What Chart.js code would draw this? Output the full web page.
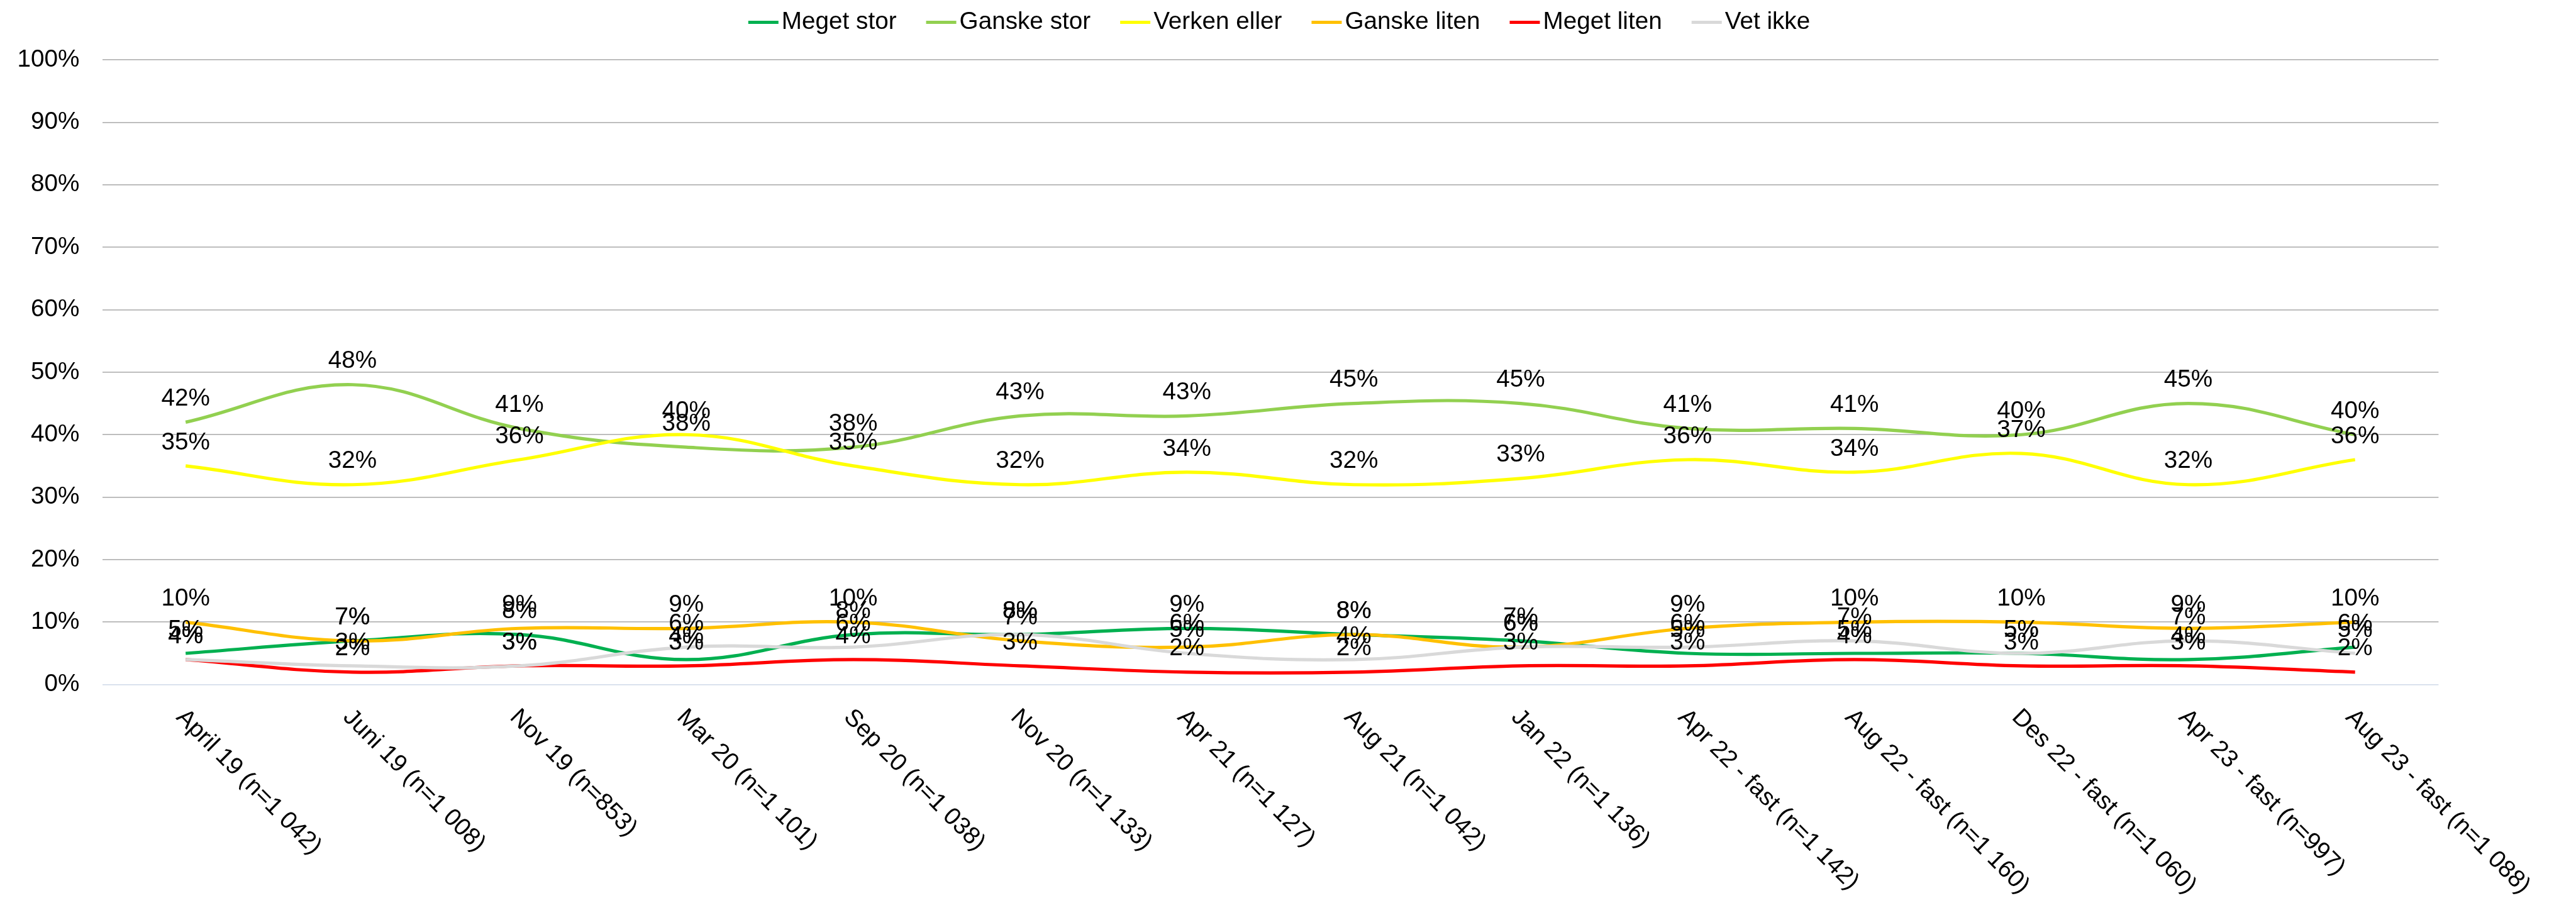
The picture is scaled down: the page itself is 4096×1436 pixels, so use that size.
<!DOCTYPE html>
<html lang="no">
<head>
    <meta charset="UTF-8">
    <title>Utvikling over tid</title>
    <style>
        body {
            margin: 0;
            padding: 0;
            background-color: #fff;
        }

        #chart {
            display: block;
        }
    </style>
</head>
<body>
    <canvas id="chart" width="4096" height="1436"></canvas>

    <script src="https://cdn.jsdelivr.net/npm/chart.js"></script>
    <script>
        const categories = [
            'April 19 (n=1 042)', 'Juni 19 (n=1 008)', 'Nov 19 (n=853)', 'Mar 20 (n=1 101)',
            'Sep 20 (n=1 038)', 'Nov 20 (n=1 133)', 'Apr 21 (n=1 127)', 'Aug 21 (n=1 042)',
            'Jan 22 (n=1 136)', 'Apr 22 - fast (n=1 142)', 'Aug 22 - fast (n=1 160)',
            'Des 22 - fast (n=1 060)', 'Apr 23 - fast (n=997)', 'Aug 23 - fast (n=1 088)'
        ];

        const seriesNames = ['Meget stor', 'Ganske stor', 'Verken eller', 'Ganske liten', 'Meget liten', 'Vet ikke'];

        const megetStor = [5, 7, 8, 4, 8, 8, 9, 8, 7, 5, 5, 5, 4, 6];
        const ganskeStor = [42, 48, 41, 38, 38, 43, 43, 45, 45, 41, 41, 40, 45, 40];
        const verkenEller = [35, 32, 36, 40, 35, 32, 34, 32, 33, 36, 34, 37, 32, 36];
        const ganskeLiten = [10, 7, 9, 9, 10, 7, 6, 8, 6, 9, 10, 10, 9, 10];
        const megetLiten = [4, 2, 3, 3, 4, 3, 2, 2, 3, 3, 4, 3, 3, 2];
        const vetIkke = [4, 3, 3, 6, 6, 8, 5, 4, 6, 6, 7, 5, 7, 5];

        const yTickValues = [0, 10, 20, 30, 40, 50, 60, 70, 80, 90, 100];

        const seriesData = [megetStor, ganskeStor, verkenEller, ganskeLiten, megetLiten, vetIkke];
        const seriesColors = ['#00B050', '#92D050', '#FFFF00', '#FFC000', '#FF0000', '#D9D9D9'];

        const fontFamily = '"Liberation Sans", Arial, sans-serif';
        const fontSize = 38.7;
        const fontCss = fontSize + 'px ' + fontFamily;

        // value labels above every point, like Excel's "above" data labels
        const pointLabels = {
            id: 'pointLabels',
            afterDatasetsDraw(chart) {
                const ctx = chart.ctx;
                ctx.save();
                ctx.font = fontCss;
                ctx.fillStyle = '#000';
                ctx.textAlign = 'center';
                ctx.textBaseline = 'middle';
                chart.data.datasets.forEach((ds, i) => {
                    chart.getDatasetMeta(i).data.forEach((pt, j) => {
                        ctx.fillText(ds.data[j] + '%', pt.x, pt.y - 37);
                    });
                });
                ctx.restore();
            }
        };

        // category labels turned 45 degrees clockwise, starting at the tick
        const slantedLabels = {
            id: 'slantedLabels',
            afterDraw(chart) {
                const ctx = chart.ctx;
                const xScale = chart.scales.x;
                const top = chart.chartArea.bottom + 46;
                ctx.save();
                ctx.font = fontCss;
                ctx.fillStyle = '#000';
                ctx.textAlign = 'left';
                ctx.textBaseline = 'middle';
                categories.forEach((label, i) => {
                    ctx.save();
                    ctx.translate(xScale.getPixelForValue(i) - 9, top);
                    ctx.rotate(Math.PI / 4);
                    ctx.fillText(label, 0, 0);
                    ctx.restore();
                });
                ctx.restore();
            }
        };

        // legend row with short line swatches
        const lineLegend = {
            id: 'lineLegend',
            afterDraw(chart) {
                const ctx = chart.ctx;
                const swatch = 48;
                const textGap = 5;
                const itemGap = 47;
                const y = 35.4;
                ctx.save();
                ctx.font = fontCss;
                const widths = chart.data.datasets.map(ds => swatch + textGap + ctx.measureText(ds.label).width);
                const total = widths.reduce((a, b) => a + b, 0) + itemGap * (widths.length - 1);
                let x = 2034 - total / 2;
                chart.data.datasets.forEach((ds, i) => {
                    ctx.strokeStyle = ds.borderColor;
                    ctx.lineWidth = 5;
                    ctx.beginPath();
                    ctx.moveTo(x, y);
                    ctx.lineTo(x + swatch, y);
                    ctx.stroke();
                    ctx.fillStyle = '#000';
                    ctx.textAlign = 'left';
                    ctx.textBaseline = 'middle';
                    ctx.fillText(ds.label, x + swatch + textGap, y);
                    x += widths[i] + itemGap;
                });
                ctx.restore();
            }
        };

        const datasets = seriesNames.map((name, i) => ({
            label: name,
            data: seriesData[i],
            borderColor: seriesColors[i],
            backgroundColor: seriesColors[i],
            borderWidth: 5.2,
            pointRadius: 0,
            pointHoverRadius: 0,
            tension: 0.4,
            fill: false,
            order: seriesNames.length - i
        }));

        new Chart(document.getElementById('chart'), {
            type: 'line',
            data: {
                labels: categories,
                datasets: datasets
            },
            plugins: [pointLabels, slantedLabels, lineLegend],
            options: {
                responsive: false,
                animation: false,
                devicePixelRatio: 1,
                layout: {
                    padding: { left: 0, right: 218.6, top: 95.1, bottom: 347.3 }
                },
                plugins: {
                    legend: { display: false },
                    tooltip: { enabled: false }
                },
                scales: {
                    x: {
                        offset: true,
                        grid: { display: false, drawTicks: false },
                        border: { display: false },
                        ticks: { display: false },
                        afterFit: (scale) => { scale.height = 0; }
                    },
                    y: {
                        min: 0,
                        max: 100,
                        afterBuildTicks: (scale) => {
                            scale.ticks = yTickValues.map(v => ({ value: v }));
                        },
                        afterFit: (scale) => { scale.width = 162.5; },
                        border: { display: false },
                        grid: {
                            drawTicks: false,
                            lineWidth: 1.7,
                            color: (c) => c.tick && c.tick.value === 0 ? '#D5DEEB' : '#B4B4B4'
                        },
                        ticks: {
                            padding: 36,
                            color: '#000',
                            font: { family: fontFamily, size: fontSize },
                            callback: (v) => v + '%'
                        }
                    }
                }
            }
        });
    </script>
</body>
</html>
